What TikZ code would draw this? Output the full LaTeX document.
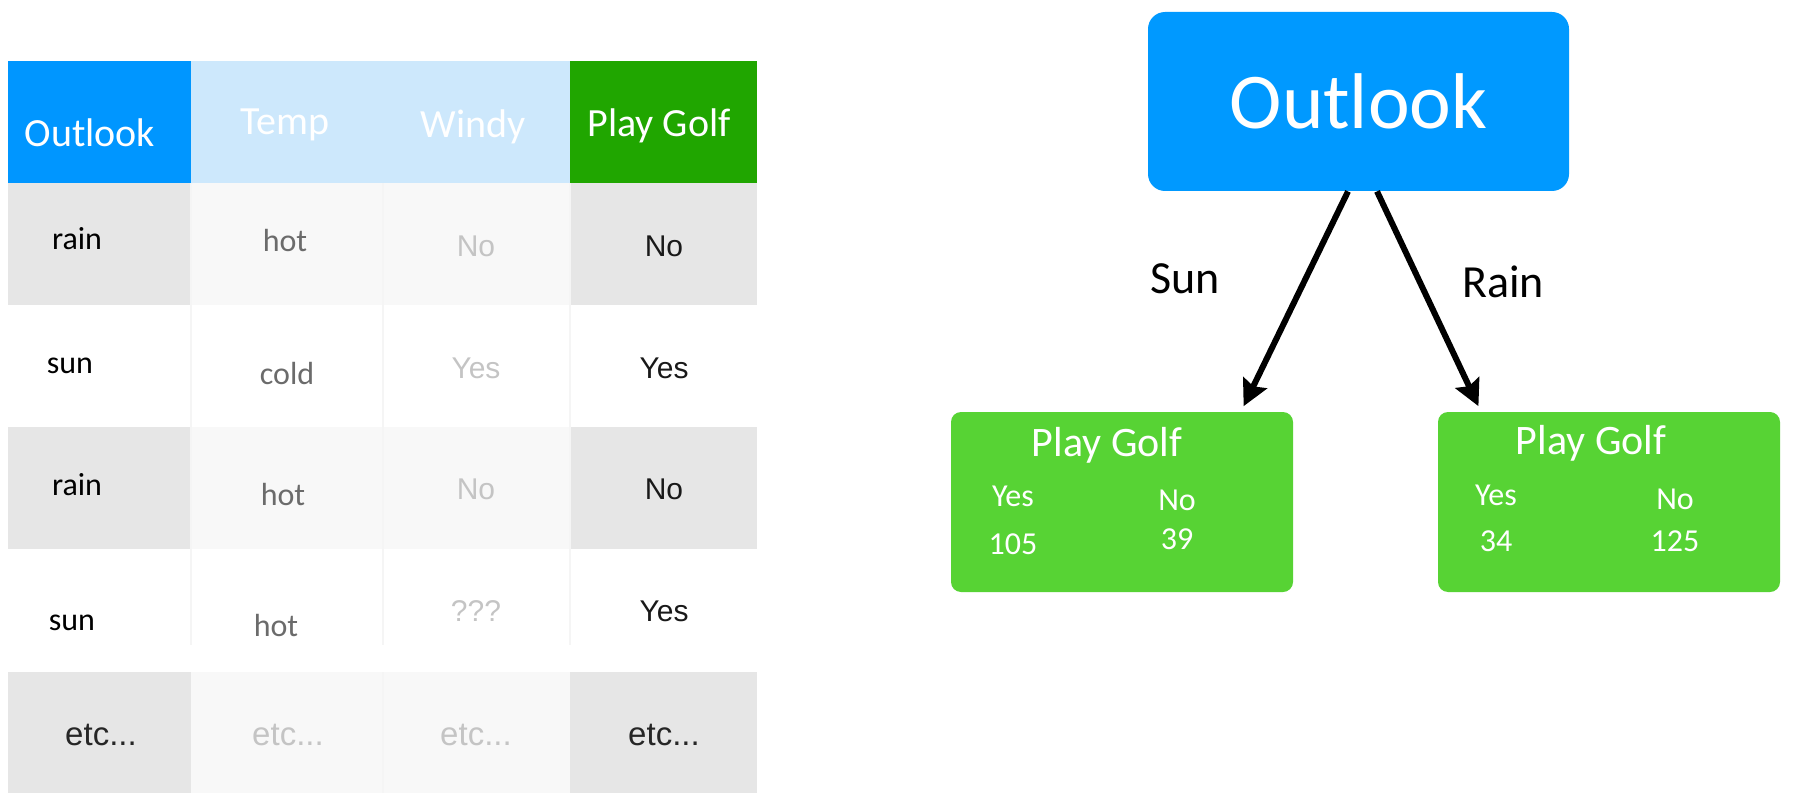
\documentclass[tikz,border=0pt]{standalone}
\usepackage{fontspec}
\setmainfont{Carlito}
\newfontfamily\arialfont{Liberation Sans}
\usetikzlibrary{arrows.meta}

\definecolor{hdrblue}{HTML}{0096FF}
\definecolor{hdrlight}{HTML}{CDE8FC}
\definecolor{hdrgreen}{HTML}{20A600}
\definecolor{rowgray}{HTML}{E6E6E6}
\definecolor{rowpale}{HTML}{F8F8F8}
\definecolor{nodeblue}{HTML}{0099FF}
\definecolor{leafgreen}{HTML}{57D334}
\definecolor{txtgray}{HTML}{6B6B6B}
\definecolor{txtpale}{HTML}{C4C4C4}

\begin{document}
\begin{tikzpicture}[
        x=0.5pt, y=-0.5pt,
        head/.style={font=\fontsize{20}{24}\selectfont, text=white},
        cell/.style={font=\fontsize{16}{19}\selectfont},
        val/.style={font=\arialfont\fontsize{15}{18}\selectfont},
        etc/.style={font=\arialfont\fontsize{16.5}{19}\selectfont},
        leaf/.style={fill=leafgreen, rounded corners=5pt, minimum width=171pt, minimum height=90pt},
        leaftext/.style={font=\fontsize{16}{19}\selectfont, text=white},
        branch/.style={line width=3pt, -{Stealth[length=13pt, width=13pt, inset=2pt]}, shorten >=3pt}
    ]
        \useasboundingbox (0,0) rectangle (1818,802);

        % Tabla: fondo de cabecera y filas grises
        \fill[hdrblue] (8,61) rectangle (191,183);
        \fill[hdrlight] (191,61) rectangle (570,183);
        \fill[hdrgreen] (570,61) rectangle (757,183);
        \foreach \top/\bot in {183/305, 427/549, 672/793} {
            \fill[rowgray] (8,\top) rectangle (191,\bot);
            \fill[rowpale] (191,\top) rectangle (570,\bot);
            \fill[rowgray] (570,\top) rectangle (757,\bot);
        }
        \foreach \x in {191,383,570} {
            \draw[black!4, line width=1pt] (\x,183) -- (\x,645);
        }
        \draw[black!4, line width=1pt] (383,672) -- (383,793);

        % Cabecera
        \node[head] (hOutlook) at (90,133) {Outlook};
        \node[head] (hTemp) at (285,125) {Temp};
        \node[head] (hWindy) at (473,127) {Windy};
        \node[head] (hGolf) at (659,126) {Play Golf};

        % Columna Outlook
        \node[cell] (o1) at (77,239) {rain};
        \node[cell] (o2) at (70,366) {sun};
        \node[cell] (o3) at (77,485) {rain};
        \node[cell] (o4) at (72,623) {sun};
        \node[etc, black!85] (o5) at (101,735) {etc...};

        % Columna Temp
        \node[cell, txtgray] (t1) at (285,241) {hot};
        \node[cell, txtgray] (t2) at (287,373) {cold};
        \node[cell, txtgray] (t3) at (283,495) {hot};
        \node[cell, txtgray] (t4) at (276,626) {hot};
        \node[etc, txtpale] (t5) at (288,735) {etc...};

        % Columna Windy
        \node[val, txtpale] (w1) at (476,246) {No};
        \node[val, txtpale] (w2) at (476,368) {Yes};
        \node[val, txtpale] (w3) at (476,489) {No};
        \node[val, txtpale] (w4) at (476,611) {???};
        \node[etc, txtpale] (w5) at (476,735) {etc...};

        % Columna Play Golf
        \node[val, black!90] (g1) at (664,246) {No};
        \node[val, black!90] (g2) at (664,368) {Yes};
        \node[val, black!90] (g3) at (664,489) {No};
        \node[val, black!90] (g4) at (664,611) {Yes};
        \node[etc, black!85] (g5) at (664,735) {etc...};

        % Arbol de decision
        \node[fill=nodeblue, rounded corners=8.5pt, minimum width=210.5pt, minimum height=89.5pt,
              text=white, font=\fontsize{39.5}{47}\selectfont] (outlook) at (1358.5,101.5) {Outlook};
        \node[leaf] (leafL) at (1122,502) {};
        \node[leaf] (leafR) at (1609,502) {};

        \draw[branch] ([xshift=-5.25pt]outlook.south) -- ([xshift=59.5pt]leafL.north);
        \draw[branch] ([xshift=9.25pt]outlook.south) -- ([xshift=-64pt]leafR.north);
        \node[font=\fontsize{23}{28}\selectfont] (sun) at (1185,279) {Sun};
        \node[font=\fontsize{23}{28}\selectfont] (rain) at (1503,282) {Rain};

        % Hoja izquierda
        \node[leaftext, font=\fontsize{21}{25}\selectfont] (gL) at (1107,445) {Play Golf};
        \node[leaftext] (yL) at (1013,496) {Yes};
        \node[leaftext] (nL) at (1177,500) {No};
        \node[leaftext] (cyL) at (1013,544) {105};
        \node[leaftext] (cnL) at (1177,539) {39};

        % Hoja derecha
        \node[leaftext, font=\fontsize{21}{25}\selectfont] (gR) at (1591,443) {Play Golf};
        \node[leaftext] (yR) at (1496,495) {Yes};
        \node[leaftext] (nR) at (1675,499) {No};
        \node[leaftext] (cyR) at (1496,541) {34};
        \node[leaftext] (cnR) at (1675,541) {125};
    \end{tikzpicture}
\end{document}
